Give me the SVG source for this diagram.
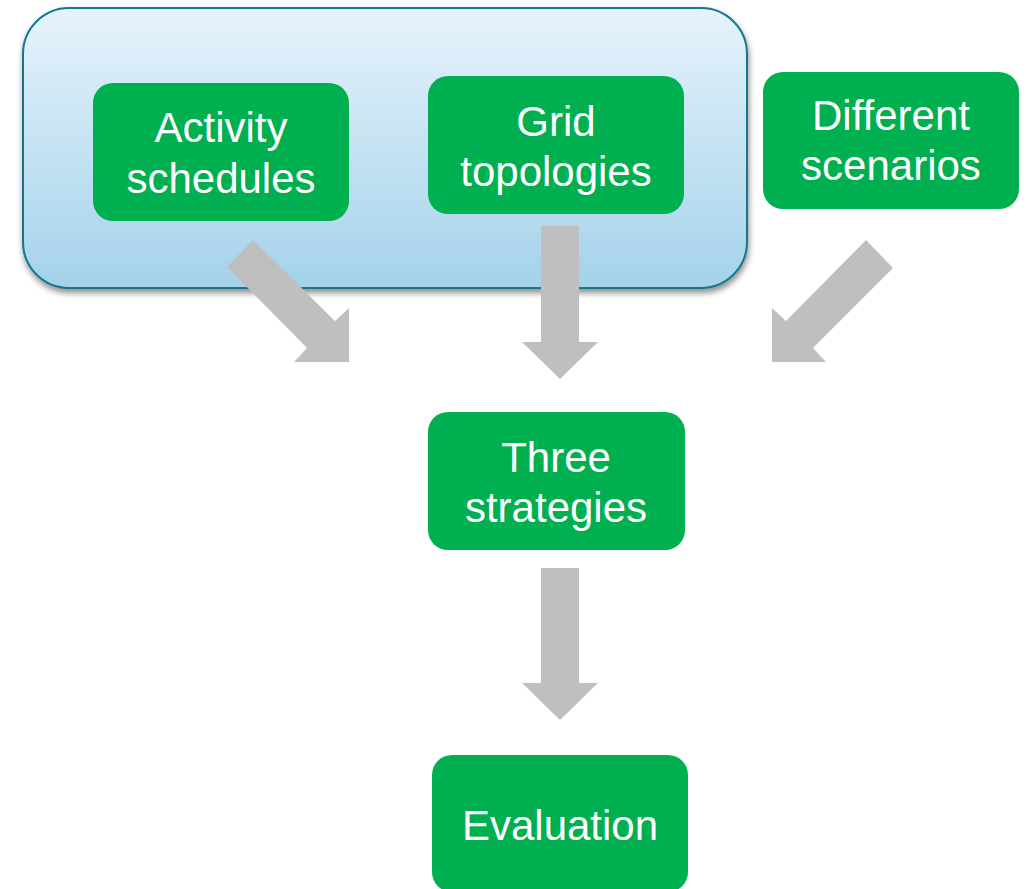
<svg xmlns="http://www.w3.org/2000/svg" width="1026" height="889" viewBox="0 0 1026 889">
  <style>
    .node { fill: #00b050; }
    .label { font-family: "Liberation Sans", Arial, sans-serif; font-size: 42px; fill: #ffffff; text-anchor: middle; }
    .arrow { fill: #bfbfbf; }
  </style>
  <defs>
    <linearGradient id="groupFill" x1="0" y1="0" x2="0" y2="1">
      <stop offset="0" stop-color="#e6f3fb"/>
      <stop offset="1" stop-color="#a4d2ea"/>
    </linearGradient>
    <filter id="softShadow" x="-5%" y="-5%" width="110%" height="120%">
      <feGaussianBlur in="SourceAlpha" stdDeviation="3"/>
      <feOffset dx="1" dy="4" result="b"/>
      <feComponentTransfer><feFuncA type="linear" slope="0.45"/></feComponentTransfer>
      <feMerge><feMergeNode/><feMergeNode in="SourceGraphic"/></feMerge>
    </filter>
  </defs>

  <rect width="1026" height="889" fill="#ffffff"/>

  <!-- group frame around the two input sources -->
  <g id="inputs-group">
    <rect x="23" y="8" width="724" height="280" rx="46" ry="46" fill="url(#groupFill)" stroke="#12778f" stroke-width="2" filter="url(#softShadow)"/>
  </g>

  <!-- connectors: block arrows -->
  <g id="connectors">
    <polygon class="arrow" points="253,240 335,321 349,308 349,362 294,362 307,348 227,267"/>
    <polygon class="arrow" points="541,226 579,226 579,342 598,342 560,379 522,342 541,342"/>
    <polygon class="arrow" points="866,240 893,268 813,348 826,362 772,362 772,308 786,321"/>
    <polygon class="arrow" points="541,568 579,568 579,683 598,683 560,720 522,683 541,683"/>
  </g>

  <g id="activity-schedules">
    <rect class="node" x="93" y="83" width="256" height="138" rx="20" ry="20"/>
    <text class="label" x="221" y="142">Activity</text>
    <text class="label" x="221" y="193">schedules</text>
  </g>

  <g id="grid-topologies">
    <rect class="node" x="428" y="76" width="256" height="138" rx="20" ry="20"/>
    <text class="label" x="556" y="136">Grid</text>
    <text class="label" x="556" y="186">topologies</text>
  </g>

  <g id="different-scenarios">
    <rect class="node" x="763" y="72" width="256" height="137" rx="20" ry="20"/>
    <text class="label" x="891" y="130">Different</text>
    <text class="label" x="891" y="180">scenarios</text>
  </g>

  <g id="three-strategies">
    <rect class="node" x="428" y="412" width="257" height="138" rx="20" ry="20"/>
    <text class="label" x="556" y="472">Three</text>
    <text class="label" x="556" y="522">strategies</text>
  </g>

  <g id="evaluation">
    <rect class="node" x="432" y="755" width="256" height="137" rx="20" ry="20"/>
    <text class="label" x="560" y="840">Evaluation</text>
  </g>
</svg>
